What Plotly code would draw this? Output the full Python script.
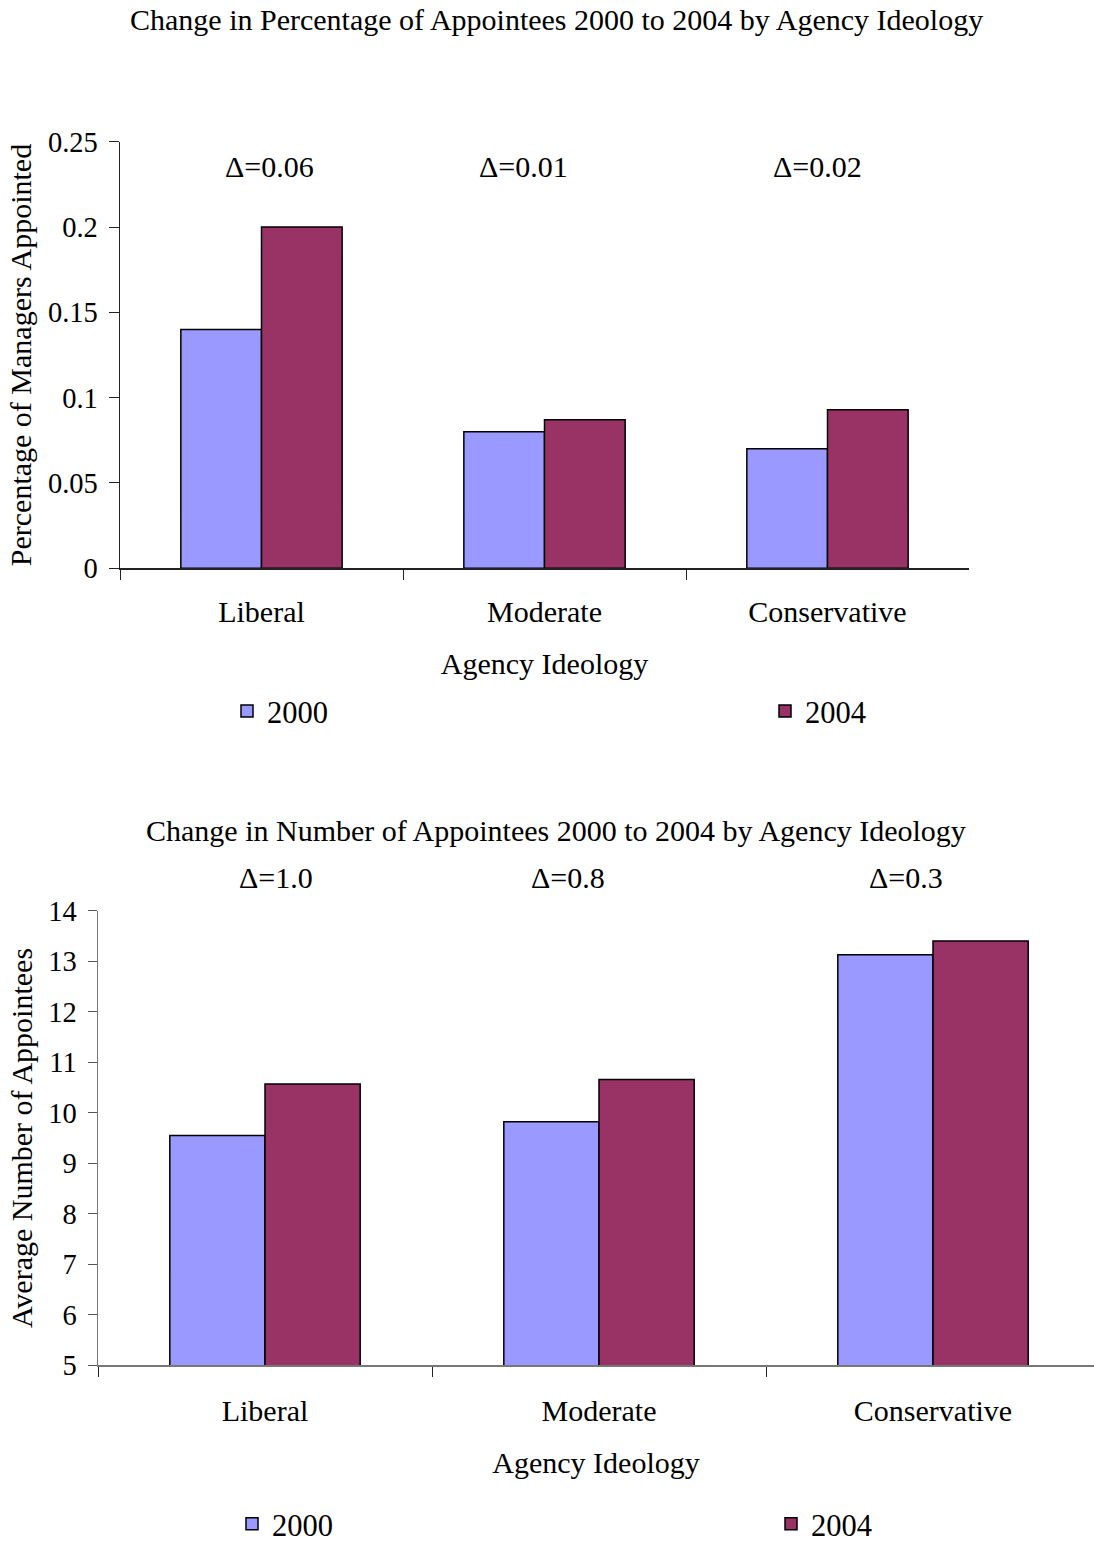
import plotly.graph_objects as go

categories = ["Liberal", "Moderate", "Conservative"]
years = ["2000", "2004"]

pct_2000 = [0.140, 0.080, 0.070]
pct_2004 = [0.200, 0.087, 0.093]
pct_deltas = ["Δ=0.06", "Δ=0.01", "Δ=0.02"]

num_2000 = [9.55, 9.82, 13.13]
num_2004 = [10.57, 10.66, 13.40]
num_deltas = ["Δ=1.0", "Δ=0.8", "Δ=0.3"]

pct_ticks = [0, 0.05, 0.1, 0.15, 0.2, 0.25]
pct_ticklabels = ["0", "0.05", "0.1", "0.15", "0.2", "0.25"]
num_ticks = [5, 6, 7, 8, 9, 10, 11, 12, 13, 14]

# reference layout is measured in a 1094x1541 frame
REF_W, REF_H = 1094, 1541
W, H = 1094, 1551
FONT = "Liberation Serif, Times New Roman, serif"
C2000 = "#9999FF"
C2004 = "#993366"

def py(p):
    return 1 - p / REF_H

def px(p):
    return p / REF_W

TXT = dict(family=FONT, size=30, color="black")
LEGF = dict(family=FONT, size=30.5, color="black")
TICK = dict(family=FONT, size=28.5, color="black")

fig = go.Figure()
legnames = ["legend", "legend2", "legend3", "legend4"]
i = 0
for name, vals, col in [(years[0], pct_2000, C2000), (years[1], pct_2004, C2004)]:
    fig.add_trace(go.Bar(x=categories, y=vals, name=name,
                         marker=dict(color=col, line=dict(color="black", width=1.5)),
                         xaxis="x", yaxis="y", legend=legnames[i], hoverinfo="skip"))
    i += 1
for name, vals, col in [(years[0], num_2000, C2000), (years[1], num_2004, C2004)]:
    fig.add_trace(go.Bar(x=categories, y=vals, name=name,
                         marker=dict(color=col, line=dict(color="black", width=1.5)),
                         xaxis="x2", yaxis="y2", legend=legnames[i], hoverinfo="skip"))
    i += 1

def leg(xp, yp):
    return dict(orientation="h", x=px(xp), y=py(yp), xanchor="left", yanchor="middle",
                font=LEGF, bgcolor="rgba(0,0,0,0)", itemclick=False, itemdoubleclick=False)

fig.update_layout(
    width=W, height=H,
    margin=dict(l=0, r=0, t=0, b=0),
    paper_bgcolor="white", plot_bgcolor="white",
    font=TXT,
    barmode="group", bargap=0.43, bargroupgap=0,
    showlegend=True,
    xaxis=dict(domain=[px(120), px(969)], anchor="y", type="category", range=[-0.5, 2.5],
               showline=True, linecolor="#222222", linewidth=1.5, ticks="outside", tickson="boundaries",
               ticklen=10, tickcolor="#222222", tickfont=TXT, ticklabelstandoff=16,
               showgrid=False, automargin=False,
               title=dict(text="Agency Ideology", font=TXT, standoff=26)),
    yaxis=dict(domain=[py(569), py(142)], anchor="x", range=[0, 0.25], tickvals=pct_ticks, ticktext=pct_ticklabels,
               showline=True, linecolor="#222222", linewidth=1.5, ticks="outside", ticklen=10, tickcolor="#222222",
               tickfont=TICK, ticklabelstandoff=5, showgrid=False, zeroline=False, automargin=False,
               title=dict(text="Percentage of Managers Appointed", font=TXT, standoff=7)),
    xaxis2=dict(domain=[px(98), 1], anchor="y2", type="category", range=[-0.5, -0.5 + (REF_W - 98) / 334],
                showline=True, linecolor="#777777", linewidth=1.5, ticks="outside", tickson="boundaries",
                ticklen=10, tickcolor="#222222", tickfont=TXT, ticklabelstandoff=18,
                showgrid=False, automargin=False,
                title=dict(text="Agency Ideology", font=TXT, standoff=26)),
    yaxis2=dict(domain=[py(1367), py(912)], anchor="x2", range=[5, 14], tickvals=num_ticks,
                showline=True, linecolor="#777777", linewidth=1.5, ticks="outside", ticklen=9, tickcolor="#555555",
                tickfont=TICK, ticklabelstandoff=5, showgrid=False, zeroline=False, automargin=False,
                title=dict(text="Average Number of Appointees", font=TXT, standoff=7)),
    legend=leg(227, 712),
    legend2=leg(765, 712),
    legend3=leg(232, 1526),
    legend4=leg(771, 1526),
)

annotations = [
    dict(text="Change in Percentage of Appointees 2000 to 2004 by Agency Ideology", x=px(556), y=py(20),
         xref="paper", yref="paper", showarrow=False, font=TXT, xanchor="center", yanchor="middle"),
    dict(text="Change in Number of Appointees 2000 to 2004 by Agency Ideology", x=px(556), y=py(832),
         xref="paper", yref="paper", showarrow=False, font=TXT, xanchor="center", yanchor="middle"),
]
for t, xp in zip(pct_deltas, [269, 523, 817]):
    annotations.append(dict(text=t, x=px(xp), y=py(167), xref="paper", yref="paper", showarrow=False,
                            font=TXT, xanchor="center", yanchor="middle"))
for t, xp in zip(num_deltas, [276, 568, 906]):
    annotations.append(dict(text=t, x=px(xp), y=py(879), xref="paper", yref="paper", showarrow=False,
                            font=TXT, xanchor="center", yanchor="middle"))
fig.update_layout(annotations=annotations)

page_fix = ("var d=document.getElementById('{plot_id}');"
            "d.style.position='fixed';d.style.left='0px';d.style.top='0px';"
            "document.documentElement.style.margin='0';document.body.style.margin='0';"
            "document.documentElement.style.overflow='hidden';document.body.style.overflow='hidden';")
fig.write_html("out.html", post_script=page_fix, config={"displayModeBar": False, "staticPlot": True})
